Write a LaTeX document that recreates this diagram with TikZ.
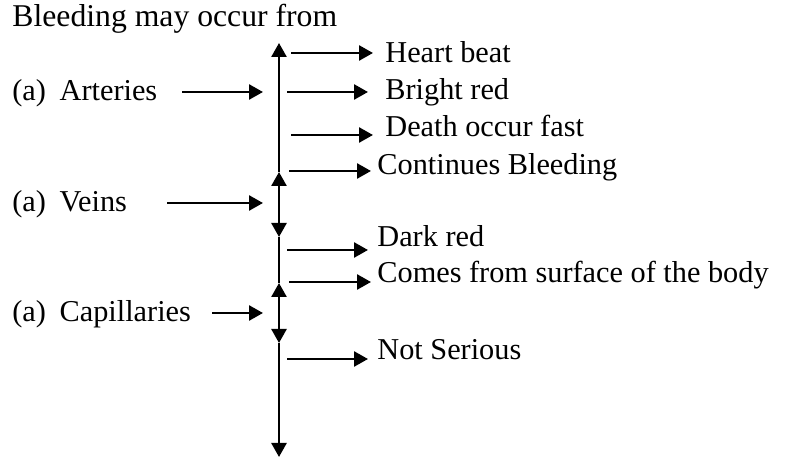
\documentclass[tikz,border=0pt]{standalone}
\usepackage{fontspec}
\setmainfont{Liberation Serif}
\usetikzlibrary{arrows.meta}
\begin{document}
\begin{tikzpicture}[x=0.5pt,y=-0.5pt,
  lbl/.style={anchor=base west,inner sep=0pt,font=\fontsize{15.15}{18}\selectfont},
  ttl/.style={anchor=base west,inner sep=0pt,font=\fontsize{15.85}{19}\selectfont},
  con/.style={line width=1.3pt,-{Triangle[length=7pt,width=7.5pt]}},
  dcon/.style={line width=1.3pt,{Triangle[length=7pt,width=7.5pt]}-{Triangle[length=7pt,width=7.5pt]}},
  plain/.style={line width=1.3pt}]
\useasboundingbox (0,0) rectangle (798,459);
% texts
\node[ttl] (title) at (12,27) {Bleeding may occur from};
\node[lbl] (art) at (12,101) {(a)\hspace{0.45em}Arteries};
\node[lbl] (vei) at (12,212) {(a)\hspace{0.45em}Veins};
\node[lbl] (cap) at (12,322) {(a)\hspace{0.45em}Capillaries};
\node[lbl] (hb) at (385,63) {Heart beat};
\node[lbl] (br) at (385,100) {Bright red};
\node[lbl] (dof) at (385,137) {Death occur fast};
\node[lbl] (cb) at (377,175) {Continues Bleeding};
\node[lbl] (dr) at (377,247) {Dark red};
\node[lbl] (cfs) at (377,283) {Comes from surface of the body};
\node[lbl] (ns) at (377,360) {Not Serious};
% spine coordinates
\coordinate (s0) at (279,43);
\coordinate (s1) at (279,172);
\coordinate (s2) at (279,237);
\coordinate (s3) at (279,283);
\coordinate (s4) at (279,343);
\coordinate (s5) at (279,457);
\draw[con] (s1) -- (s0);
\draw[dcon] (s1) -- (s2);
\draw[plain] (s2) -- (s3);
\draw[dcon] (s3) -- (s4);
\draw[con] (s4) -- (s5);
% left arrows
\coordinate (a1) at (182,92); \coordinate (a2) at (263,92);
\coordinate (v1) at (167,203); \coordinate (v2) at (263,203);
\coordinate (c1) at (212,313); \coordinate (c2) at (263,313);
\draw[con] (a1) -- (a2);
\draw[con] (v1) -- (v2);
\draw[con] (c1) -- (c2);
% right arrows
\coordinate (h1) at (291,53); \coordinate (h2) at (373,53);
\coordinate (b1) at (287,92); \coordinate (b2) at (368,92);
\coordinate (d1) at (291,135); \coordinate (d2) at (373,135);
\coordinate (k1) at (289,171); \coordinate (k2) at (371,171);
\coordinate (r1) at (287,250); \coordinate (r2) at (368,250);
\coordinate (f1) at (289,282); \coordinate (f2) at (371,282);
\coordinate (n1) at (287,359); \coordinate (n2) at (368,359);
\draw[con] (h1) -- (h2);
\draw[con] (b1) -- (b2);
\draw[con] (d1) -- (d2);
\draw[con] (k1) -- (k2);
\draw[con] (r1) -- (r2);
\draw[con] (f1) -- (f2);
\draw[con] (n1) -- (n2);
\end{tikzpicture}
\end{document}
